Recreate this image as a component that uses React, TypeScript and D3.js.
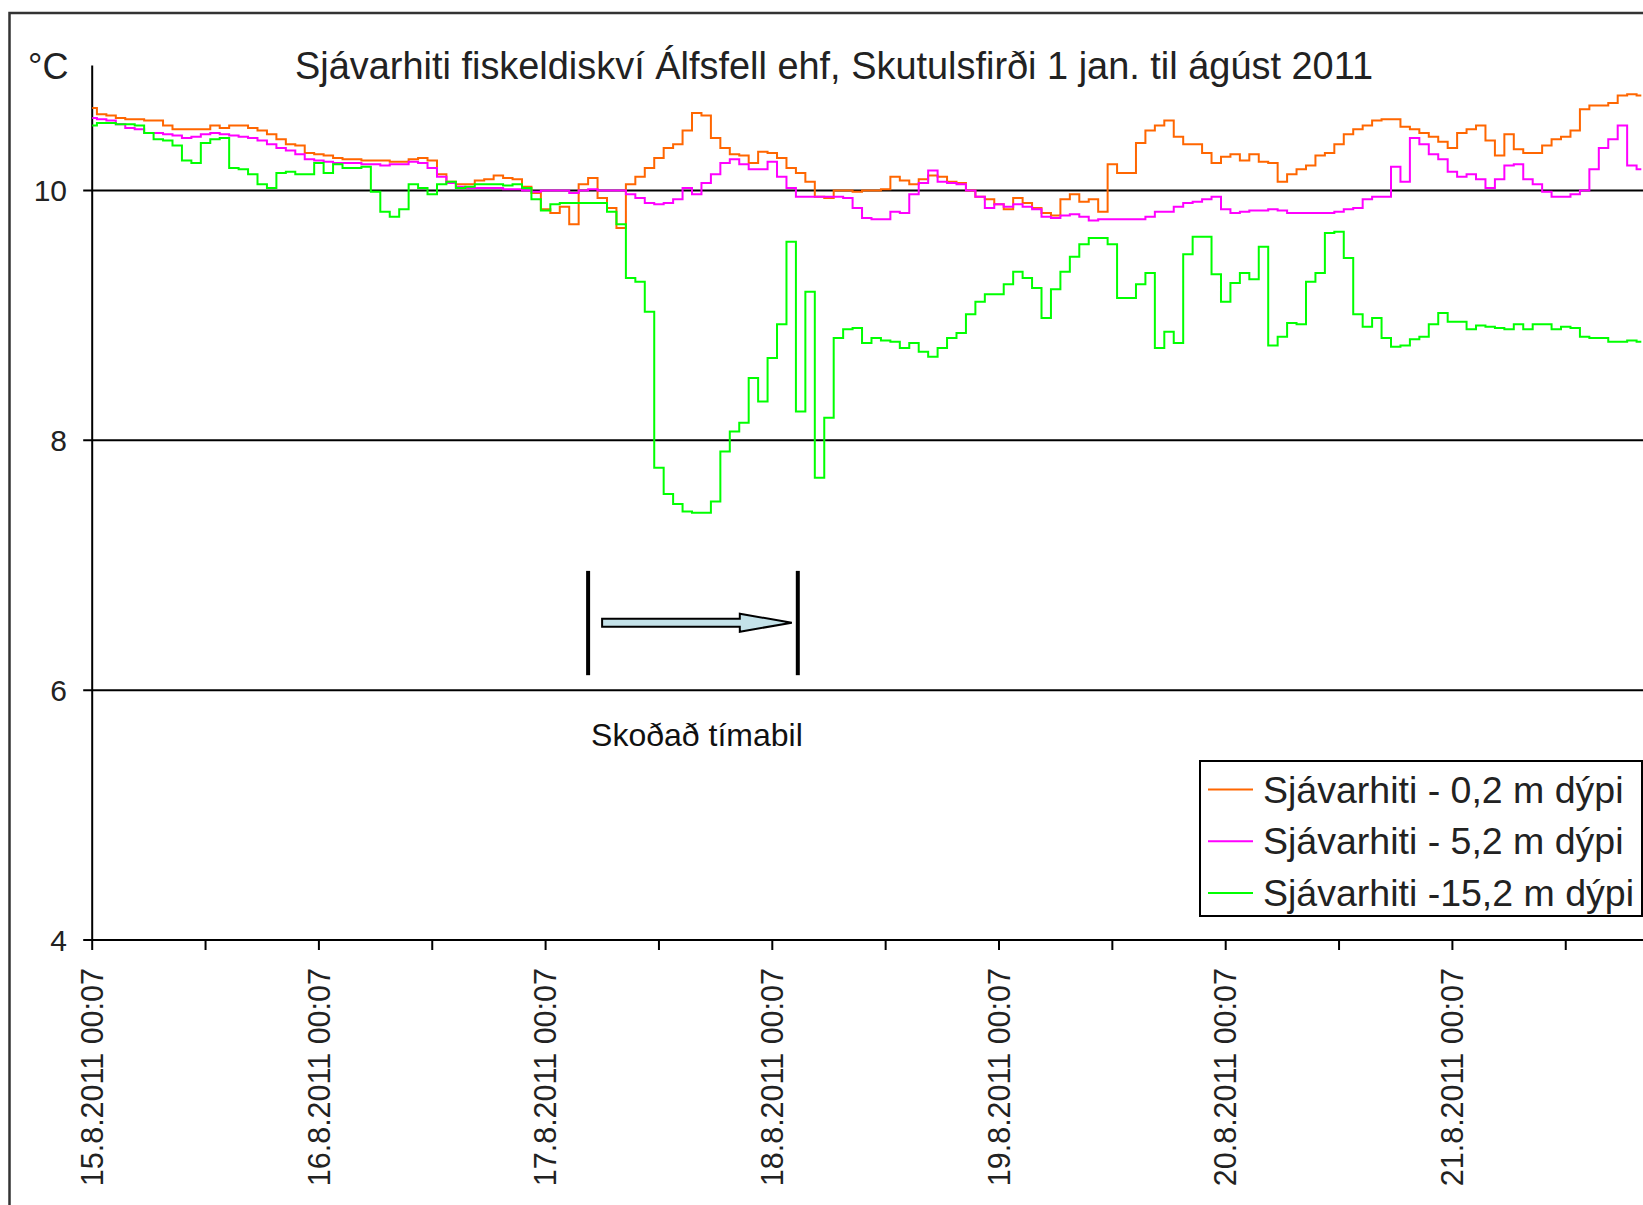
import React, { useEffect, useRef } from 'react';
import * as d3 from 'd3';

// hourly readings (°C) starting 15.8.2011 00:07
const depth02 = [
  10.66, 10.61, 10.60, 10.58, 10.57, 10.57, 10.56, 10.56, 10.52, 10.49,
  10.49, 10.49, 10.49, 10.52, 10.50, 10.52, 10.52, 10.50, 10.48, 10.45,
  10.41, 10.37, 10.36, 10.30, 10.29, 10.28, 10.26, 10.25, 10.25, 10.24,
  10.24, 10.24, 10.23, 10.23, 10.25, 10.26, 10.24, 10.13, 10.07, 10.05,
  10.05, 10.08,
  10.09, 10.12, 10.10, 10.09, 10.03, 9.98, 9.85, 9.82, 9.87, 9.73,
  10.05, 10.10, 9.94, 9.86, 9.70, 10.05, 10.11, 10.18, 10.26, 10.34,
  10.37, 10.48, 10.62, 10.60, 10.42, 10.34, 10.29, 10.28, 10.22, 10.31,
  10.30, 10.26, 10.18, 10.14, 10.07, 9.95, 9.94, 10.00, 10.00, 9.99,
  10.00,
  10.00, 10.01, 10.11, 10.08, 10.05, 10.09, 10.12, 10.11, 10.07, 10.06,
  10.00, 9.95, 9.93, 9.89, 9.85, 9.94, 9.90, 9.86, 9.82, 9.80,
  9.93, 9.97, 9.91, 9.93, 9.83, 10.21, 10.14, 10.14, 10.38, 10.48,
  10.52, 10.56, 10.43, 10.37, 10.37, 10.30, 10.22, 10.27, 10.29, 10.24,
  10.29,
  10.23, 10.22, 10.07, 10.13, 10.17, 10.20, 10.28, 10.30, 10.37, 10.45,
  10.49, 10.52, 10.56, 10.57, 10.57, 10.51, 10.49, 10.46, 10.43, 10.39,
  10.34, 10.46, 10.49, 10.52, 10.40, 10.28, 10.45, 10.33, 10.30, 10.30,
  10.36, 10.41, 10.43, 10.48, 10.65, 10.68, 10.68, 10.70, 10.76, 10.77,
  10.76,
];

const depth52 = [
  10.58, 10.57, 10.56, 10.53, 10.50, 10.49, 10.46, 10.46, 10.45, 10.44,
  10.42, 10.43, 10.45, 10.46, 10.45, 10.44, 10.43, 10.42, 10.40, 10.37,
  10.34, 10.32, 10.29, 10.25, 10.24, 10.23, 10.22, 10.22, 10.22, 10.21,
  10.21, 10.20, 10.21, 10.21, 10.23, 10.22, 10.18, 10.11, 10.06, 10.03,
  10.02, 10.02,
  10.02, 10.02, 10.01, 10.01, 10.00, 9.99, 10.00, 10.00, 10.00, 9.98,
  10.00, 10.01, 10.00, 10.00, 10.00, 9.97, 9.94, 9.90, 9.89, 9.90,
  9.93, 10.02, 9.97, 10.06, 10.13, 10.22, 10.25, 10.21, 10.17, 10.17,
  10.23, 10.11, 10.02, 9.95, 9.95, 9.95, 9.95, 9.95, 9.94, 9.86,
  9.78,
  9.77, 9.77, 9.83, 9.82, 9.97, 10.06, 10.16, 10.07, 10.06, 10.05,
  10.00, 9.95, 9.86, 9.89, 9.87, 9.89, 9.87, 9.85, 9.79, 9.78,
  9.80, 9.81, 9.79, 9.76, 9.77, 9.77, 9.77, 9.77, 9.77, 9.79,
  9.83, 9.83, 9.87, 9.90, 9.91, 9.93, 9.95, 9.85, 9.82, 9.83,
  9.84,
  9.84, 9.85, 9.84, 9.82, 9.82, 9.82, 9.82, 9.82, 9.83, 9.85,
  9.86, 9.93, 9.95, 9.95, 10.19, 10.07, 10.42, 10.37, 10.29, 10.25,
  10.15, 10.11, 10.13, 10.09, 10.02, 10.09, 10.20, 10.21, 10.09, 10.05,
  9.99, 9.95, 9.95, 9.97, 10.00, 10.17, 10.34, 10.41, 10.52, 10.20,
  10.17,
];

const depth152 = [
  10.52, 10.54, 10.54, 10.53, 10.53, 10.52, 10.46, 10.41, 10.40, 10.36,
  10.24, 10.22, 10.38, 10.41, 10.42, 10.18, 10.17, 10.13, 10.05, 10.02,
  10.14, 10.15, 10.13, 10.13, 10.22, 10.14, 10.21, 10.18, 10.18, 10.19,
  9.99, 9.83, 9.79, 9.85, 10.05, 10.02, 9.97, 10.05, 10.07, 10.02,
  10.03, 10.05,
  10.05, 10.05, 10.04, 10.05, 10.02, 9.93, 9.84, 9.89, 9.90, 9.90,
  9.90, 9.90, 9.90, 9.83, 9.73, 9.30, 9.27, 9.03, 7.78, 7.57,
  7.49, 7.43, 7.42, 7.42, 7.51, 7.91, 8.07, 8.14, 8.50, 8.31,
  8.66, 8.93, 9.59, 8.23, 9.19, 7.70, 8.18, 8.82, 8.89, 8.90,
  8.78,
  8.82, 8.80, 8.79, 8.74, 8.78, 8.71, 8.67, 8.74, 8.82, 8.86,
  9.01, 9.11, 9.17, 9.17, 9.25, 9.35, 9.30, 9.22, 8.98, 9.21,
  9.35, 9.47, 9.57, 9.62, 9.62, 9.57, 9.14, 9.14, 9.25, 9.34,
  8.74, 8.87, 8.78, 9.49, 9.63, 9.63, 9.33, 9.11, 9.26, 9.34,
  9.29,
  9.55, 8.76, 8.83, 8.94, 8.93, 9.27, 9.34, 9.66, 9.67, 9.46,
  9.01, 8.91, 8.98, 8.82, 8.75, 8.76, 8.81, 8.83, 8.93, 9.02,
  8.95, 8.95, 8.89, 8.92, 8.91, 8.90, 8.89, 8.93, 8.89, 8.93,
  8.93, 8.89, 8.91, 8.90, 8.83, 8.82, 8.82, 8.79, 8.79, 8.80,
  8.79,
];

const seriesNames = [
  'Sjávarhiti - 0,2 m dýpi',
  'Sjávarhiti - 5,2 m dýpi',
  'Sjávarhiti -15,2 m dýpi',
];
const seriesColors = ['#ff6600', '#ff00ff', '#00ff00'];

const yTicks = [4, 6, 8, 10];
const gridValues = [6, 8, 10];
const dayLabels = [
  '15.8.2011 00:07', '16.8.2011 00:07', '17.8.2011 00:07', '18.8.2011 00:07',
  '19.8.2011 00:07', '20.8.2011 00:07', '21.8.2011 00:07',
];

// "Skoðað tímabil" bracket, hours after start
const periodHours = [52.5, 74.7];

const title = 'Sjávarhiti fiskeldiskví Álfsfell ehf, Skutulsfirði 1 jan. til ágúst 2011';

const App = () => {
  const ref = useRef<SVGSVGElement>(null);

  const width = 1643;
  const height = 1205;
  const font = '"Liberation Sans", Arial, sans-serif';

  useEffect(() => {
    const svg = d3.select(ref.current);
    svg.selectAll('*').remove();

    const start = new Date(2011, 7, 15, 0, 7);
    const hour = (h: number) => new Date(start.getTime() + h * 3600 * 1000);

    const x = d3.scaleTime()
      .domain([start, hour(24 * 7)])
      .range([92.2, 92.2 + 7 * 226.7]);
    const y = d3.scaleLinear().domain([4, 11]).range([940, 65.6]);

    const left = x(start);
    const bottom = y(4);

    // outer frame
    svg.append('rect')
      .attr('x', 9.5).attr('y', 13).attr('width', 1700).attr('height', 1300)
      .attr('fill', '#fff').attr('stroke', '#333').attr('stroke-width', 2.5);

    // title and unit
    svg.append('text')
      .text(title)
      .attr('x', 295).attr('y', 79)
      .attr('font-size', 38).attr('font-family', font).attr('fill', '#222')
      .attr('textLength', 1078).attr('lengthAdjust', 'spacingAndGlyphs');
    svg.append('text')
      .text('°C')
      .attr('x', 28).attr('y', 79)
      .attr('font-size', 36).attr('font-family', font).attr('fill', '#222');

    // horizontal grid lines
    svg.selectAll('.grid')
      .data(gridValues).enter()
      .append('line')
      .attr('x1', left - 9).attr('x2', width + 10)
      .attr('y1', d => y(d)).attr('y2', d => y(d))
      .attr('stroke', '#000').attr('stroke-width', 2);

    // y axis
    svg.append('line')
      .attr('x1', left).attr('x2', left)
      .attr('y1', y(11)).attr('y2', bottom)
      .attr('stroke', '#000').attr('stroke-width', 2);
    svg.selectAll('.ylab')
      .data(yTicks).enter()
      .append('text')
      .text(d => d)
      .attr('x', 67).attr('y', d => y(d) + 10.5)
      .attr('text-anchor', 'end')
      .attr('font-size', 30).attr('font-family', font).attr('fill', '#222');

    // x axis
    svg.append('line')
      .attr('x1', left - 9).attr('x2', width + 10)
      .attr('y1', bottom).attr('y2', bottom)
      .attr('stroke', '#000').attr('stroke-width', 2);
    const minorTicks = d3.range(0, 24 * 7 + 1, 12).map(hour);
    svg.selectAll('.xtick')
      .data(minorTicks).enter()
      .append('line')
      .attr('x1', d => x(d)).attr('x2', d => x(d))
      .attr('y1', bottom).attr('y2', bottom + 10)
      .attr('stroke', '#000').attr('stroke-width', 2);
    svg.selectAll('.xlab')
      .data(dayLabels).enter()
      .append('text')
      .text(d => d)
      .attr('transform', (d, i) => `translate(${x(hour(i * 24))}, ${bottom + 28}) rotate(-90)`)
      .attr('text-anchor', 'end')
      .attr('dy', '0.35em')
      .attr('font-size', 30.5).attr('font-family', font).attr('fill', '#222');

    // series lines
    const line = d3.line<number>()
      .x((d, i) => x(hour(i)))
      .y(d => y(d))
      .curve(d3.curveStep);
    [depth02, depth52, depth152].forEach((values, i) => {
      svg.append('path')
        .datum(values)
        .attr('d', line)
        .attr('fill', 'none')
        .attr('stroke', seriesColors[i])
        .attr('stroke-width', 2);
    });

    // examined-period bracket
    const x0 = x(hour(periodHours[0]));
    const x1 = x(hour(periodHours[1]));
    const barTop = y(6.955);
    const barBottom = y(6.12);
    [x0, x1].forEach(bx => {
      svg.append('line')
        .attr('x1', bx).attr('x2', bx)
        .attr('y1', barTop).attr('y2', barBottom)
        .attr('stroke', '#000').attr('stroke-width', 4);
    });
    const yc = y(6.54);
    const head = x1 - 58;
    const arrowPts: [number, number][] = [
      [x0 + 14, yc - 4], [head, yc - 4], [head, yc - 9], [x1 - 6, yc],
      [head, yc + 9], [head, yc + 4], [x0 + 14, yc + 4],
    ];
    svg.append('polygon')
      .attr('points', arrowPts.map(p => p.join(',')).join(' '))
      .attr('fill', '#c4e2e9').attr('stroke', '#000').attr('stroke-width', 2);
    svg.append('text')
      .text('Skoðað tímabil')
      .attr('x', (x0 + x1) / 2 + 4).attr('y', y(6) + 56)
      .attr('text-anchor', 'middle')
      .attr('font-size', 32).attr('font-family', font).attr('fill', '#111');

    // legend
    const legend = svg.append('g').attr('transform', 'translate(1200, 761)');
    legend.append('rect')
      .attr('width', 442).attr('height', 155)
      .attr('fill', '#fff').attr('stroke', '#000').attr('stroke-width', 2);
    seriesNames.forEach((name, i) => {
      const ry = 28.5 + i * 51.7;
      legend.append('line')
        .attr('x1', 8).attr('x2', 53).attr('y1', ry).attr('y2', ry)
        .attr('stroke', seriesColors[i]).attr('stroke-width', 2);
      legend.append('text')
        .text(name)
        .attr('x', 63).attr('y', ry + 13)
        .attr('font-size', 37.5).attr('font-family', font).attr('fill', '#222');
    });
  }, []);

  return (
    <div style={{ position: 'absolute', left: 0, top: 0, width, height, overflow: 'hidden', background: '#fff' }}>
      <svg ref={ref} width={width} height={height} style={{ display: 'block' }} />
    </div>
  );
};

export default App;
